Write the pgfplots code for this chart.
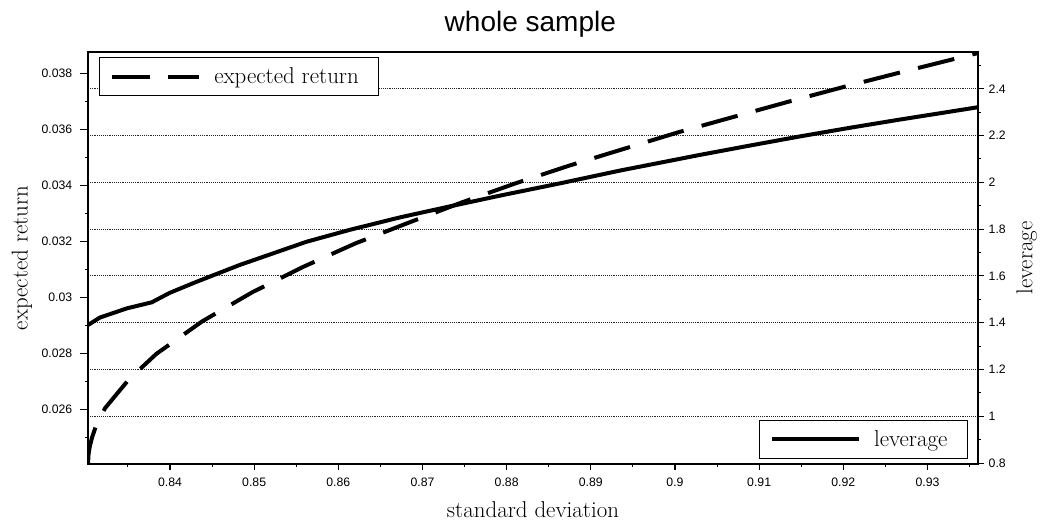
\documentclass[border=0pt]{standalone}
\usepackage{fontspec}
\usepackage{pgfplots}
\usepackage{pgfplotstable}
\pgfplotsset{compat=1.18}
\newfontfamily\arial{Liberation Sans}

\pgfplotstableread{
x y
0.83026 1.390
0.83168 1.422
0.83486 1.461
0.83783 1.487
0.84000 1.528
0.84317 1.575
0.84831 1.647
0.85623 1.746
0.86138 1.797
0.86732 1.850
0.87286 1.894
0.87920 1.943
0.88667 1.998
0.89344 2.050
0.90294 2.117
0.90889 2.157
0.91482 2.196
0.92077 2.233
0.92669 2.268
0.93146 2.295
0.93600 2.321
}\lev

\pgfplotstableread{
x y
0.83026 0.024046
0.83032 0.024368
0.83038 0.024511
0.83050 0.024707
0.83074 0.024993
0.83121 0.025404
0.83228 0.026036
0.83370 0.026554
0.83513 0.027071
0.83838 0.027979
0.84386 0.029146
0.84979 0.030182
0.85582 0.031086
0.86200 0.031921
0.86829 0.032657
0.87465 0.033386
0.88104 0.034068
0.88745 0.034704
0.89391 0.035300
0.90042 0.035896
0.90696 0.036443
0.91349 0.036986
0.92002 0.037511
0.92652 0.038011
0.93146 0.038382
0.93597 0.038721
}\ret

\begin{document}
\begin{tikzpicture}
\useasboundingbox (-66pt,-45pt) rectangle (722.25pt,348pt);
\pgfplotsset{
  common/.style={
    at={(0pt,0pt)}, anchor=south west,
    scale only axis, width=667.5pt, height=309pt,
    xmin=0.83026, xmax=0.93600,
    axis line style={line width=1.5pt},
    tick align=outside,
    every tick/.style={black, line width=0.8pt},
    ticklabel style={font=\arial\fontsize{9.2}{11}\selectfont},
    /pgf/number format/assume math mode=true,
    scaled ticks=false,
    label style={font=\fontsize{17.2}{20}\selectfont},
    legend style={draw=black, line width=0.9pt, fill=white,
      font=\fontsize{17.2}{20}\selectfont, inner xsep=8pt, inner ysep=5.5pt,
      /tikz/every odd column/.append style={column sep=8pt}},
    legend cell align=left,
    legend image code/.code={\draw[##1] (0pt,0pt) -- (65pt,0pt);},
  }
}
% right axis: leverage
\begin{axis}[common,
  ymin=0.796, ymax=2.557,
  ytick={0.8,1,1.2,1.4,1.6,1.8,2,2.2,2.4},
  minor ytick={0.9,1.1,1.3,1.5,1.7,1.9,2.1,2.3,2.5},
  ytick pos=right, yticklabel pos=right,
  xtick={0.84,0.85,0.86,0.87,0.88,0.89,0.9,0.91,0.92,0.93},
  minor xtick={0.835,0.845,0.855,0.865,0.875,0.885,0.895,0.905,0.915,0.925,0.935},
  xtick pos=bottom,
  major tick length=4.5pt, minor tick length=2pt,
  xticklabel style={/pgf/number format/fixed, /pgf/number format/precision=2, yshift=-2.5pt},
  yticklabel style={/pgf/number format/fixed, /pgf/number format/precision=1},
  ymajorgrids,
  grid style={black!85, line width=0.6pt, dash pattern=on 0.7pt off 0.7pt},
  xlabel={standard deviation},
  xlabel style={at={(axis description cs:0.5,-0.1117)}, anchor=center},
  ylabel={leverage},
  ylabel style={at={(axis description cs:1.0547,0.5)}, anchor=center},
  title={whole sample},
  title style={font=\arial\fontsize{21}{25}\selectfont, at={(axis description cs:0.497,1.0485)}, anchor=center},
  legend style={at={(axis description cs:1,0)}, anchor=south east, xshift=-7.5pt, yshift=3.75pt},
]
\addplot[black, line width=3pt] table {\lev};
\legend{leverage\rule{5pt}{0pt}}
\end{axis}
% left axis: expected return
\begin{axis}[common,
  ymin=0.024046, ymax=0.038761,
  ytick={0.026,0.028,0.03,0.032,0.034,0.036,0.038},
  minor ytick={0.025,0.027,0.029,0.031,0.033,0.035,0.037},
  ytick pos=left,
  xtick=\empty,
  major tick length=5.8pt, minor tick length=2.5pt,
  yticklabel style={/pgf/number format/fixed, /pgf/number format/precision=3, xshift=-2.5pt},
  ylabel={expected return},
  ylabel style={at={(axis description cs:-0.0742,0.5)}, anchor=center},
  legend style={at={(axis description cs:0,1)}, anchor=north west, xshift=8.25pt, yshift=-3.75pt},
]
\addplot[black, line width=3pt, dash pattern=on 28pt off 14pt] table {\ret};
\legend{expected return\rule{5pt}{0pt}}
\end{axis}
\end{tikzpicture}
\end{document}
